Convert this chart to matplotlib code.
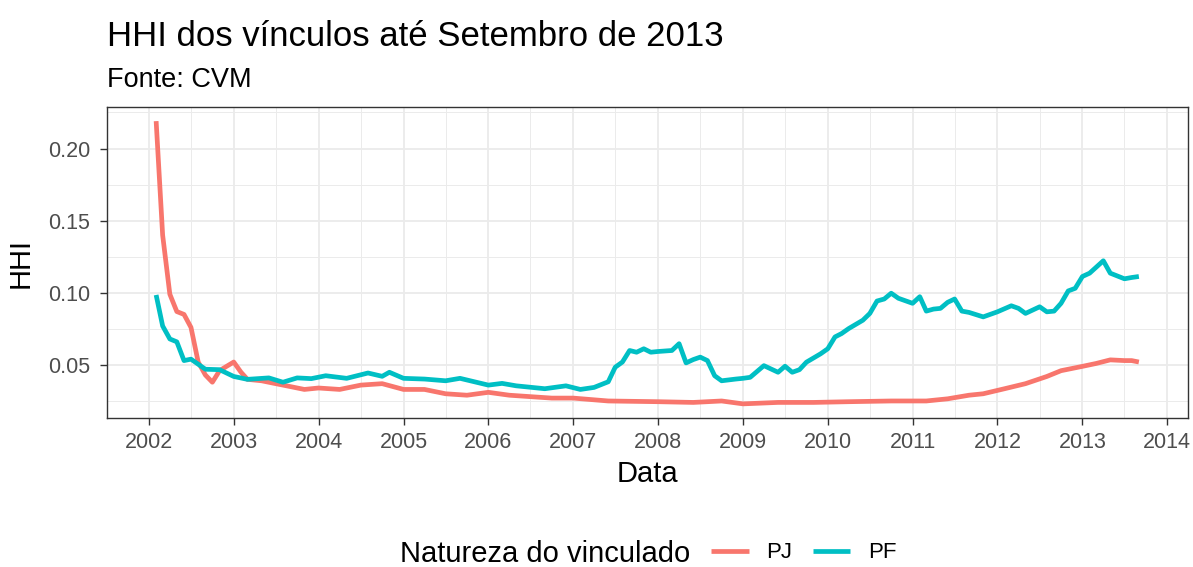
import matplotlib
matplotlib.use("Agg")
import matplotlib.pyplot as plt
import matplotlib.dates as mdates
import pandas as pd
import numpy as np

plt.rcParams['font.family'] = ['Liberation Sans', 'DejaVu Sans']

title = "HHI dos vínculos até Setembro de 2013"
subtitle = "Fonte: CVM"
x_label = "Data"
y_label = "HHI"
legend_title = "Natureza do vinculado"
series_names = ["PJ", "PF"]

pj_months = ["2002-02", "2002-03", "2002-04", "2002-05", "2002-06", "2002-07", "2002-08",
             "2002-09", "2002-10", "2002-11", "2002-12", "2003-01", "2003-02", "2003-03",
             "2003-05", "2003-07", "2003-09", "2003-11", "2004-01", "2004-04", "2004-07",
             "2004-10", "2005-01", "2005-04", "2005-07", "2005-10", "2006-01", "2006-04",
             "2006-07", "2006-10", "2007-01", "2007-06", "2008-01", "2008-06", "2008-10",
             "2009-01", "2009-06", "2009-11", "2010-04", "2010-10", "2011-03", "2011-06",
             "2011-09", "2011-11", "2012-02", "2012-05", "2012-08", "2012-10", "2013-01",
             "2013-03", "2013-05", "2013-07", "2013-08", "2013-09"]
pj_values = [0.219, 0.140, 0.099, 0.087, 0.085, 0.076, 0.052,
             0.043, 0.038, 0.046, 0.049, 0.052, 0.045, 0.040,
             0.039, 0.037, 0.035, 0.033, 0.034, 0.033, 0.036,
             0.037, 0.033, 0.033, 0.030, 0.029, 0.031, 0.029,
             0.028, 0.027, 0.027, 0.025, 0.0245, 0.024, 0.025,
             0.023, 0.024, 0.024, 0.0245, 0.025, 0.025, 0.0265,
             0.029, 0.030, 0.0335, 0.037, 0.042, 0.046, 0.049,
             0.051, 0.0535, 0.053, 0.053, 0.052]

pf_months = ["2002-02", "2002-03", "2002-04", "2002-05", "2002-06", "2002-07", "2002-09",
             "2002-11", "2003-01", "2003-03", "2003-06", "2003-08", "2003-10", "2003-12",
             "2004-02", "2004-05", "2004-08", "2004-10", "2004-11", "2005-01", "2005-04",
             "2005-07", "2005-09", "2006-01", "2006-03", "2006-05", "2006-09", "2006-12",
             "2007-02", "2007-04", "2007-06", "2007-07", "2007-08", "2007-09", "2007-10",
             "2007-11", "2007-12", "2008-01", "2008-03", "2008-04", "2008-05", "2008-06",
             "2008-07", "2008-08", "2008-09", "2008-10", "2008-12", "2009-01", "2009-02",
             "2009-04", "2009-06", "2009-07", "2009-08", "2009-09", "2009-10", "2009-12",
             "2010-01", "2010-02", "2010-03", "2010-04", "2010-06", "2010-07", "2010-08",
             "2010-09", "2010-10", "2010-11", "2011-01", "2011-02", "2011-03", "2011-04",
             "2011-05", "2011-06", "2011-07", "2011-08", "2011-09", "2011-11", "2012-01",
             "2012-03", "2012-04", "2012-05", "2012-07", "2012-08", "2012-09", "2012-10",
             "2012-11", "2012-12", "2013-01", "2013-02", "2013-04", "2013-05", "2013-07",
             "2013-08", "2013-09"]
pf_values = [0.0985, 0.077, 0.068, 0.066, 0.053, 0.054, 0.047,
             0.0467, 0.042, 0.040, 0.041, 0.038, 0.041, 0.0405,
             0.0425, 0.0407, 0.0444, 0.0421, 0.0449, 0.0407, 0.0402,
             0.039, 0.0407, 0.036, 0.0372, 0.0355, 0.0335, 0.0355,
             0.0330, 0.0344, 0.0383, 0.0484, 0.052, 0.060, 0.0588,
             0.0612, 0.0588, 0.0593, 0.060, 0.0647, 0.0514, 0.0537,
             0.0554, 0.053, 0.0425, 0.039, 0.0402, 0.0407, 0.0414,
             0.0495, 0.0449, 0.0491, 0.0449, 0.0467, 0.0519, 0.0577,
             0.0612, 0.0694, 0.0717, 0.0752, 0.081, 0.0857, 0.0943,
             0.0957, 0.0997, 0.0962, 0.0927, 0.0973, 0.0873, 0.0887,
             0.0892, 0.0934, 0.0957, 0.0873, 0.0864, 0.0833, 0.0868,
             0.091, 0.0892, 0.0857, 0.0903, 0.0868, 0.0873, 0.0927,
             0.1013, 0.1031, 0.1113, 0.1136, 0.1222, 0.1136, 0.1097,
             0.1106, 0.1113]

colors = ["#F8766D", "#00BFC4"]
y_ticks = [0.05, 0.10, 0.15, 0.20]

pj_dates = pd.to_datetime(pj_months, format="%Y-%m")
pf_dates = pd.to_datetime(pf_months, format="%Y-%m")

fig = plt.figure(figsize=(11.93, 5.67), dpi=100)
ax = fig.add_axes([107 / 1193, 1 - 418 / 567, (1188 - 107) / 1193, (418 - 107) / 567])

lines = []
for d, v, c, n in [(pj_dates, pj_values, colors[0], series_names[0]),
                   (pf_dates, pf_values, colors[1], series_names[1])]:
    ln, = ax.plot(d, v, color=c, lw=3.4, label=n, solid_joinstyle='round',
                  solid_capstyle='butt', zorder=3)
    lines.append(ln)

# ggplot-like expansion
all_dates = np.concatenate([mdates.date2num(pj_dates), mdates.date2num(pf_dates)])
xmin, xmax = all_dates.min(), all_dates.max()
xr = xmax - xmin
ax.set_xlim(xmin - 0.05 * xr, xmax + 0.05 * xr)
all_vals = np.array(pj_values + pf_values)
ymin, ymax = all_vals.min(), all_vals.max()
yr = ymax - ymin
ax.set_ylim(ymin - 0.05 * yr, ymax + 0.05 * yr)

ax.xaxis.set_major_locator(mdates.YearLocator())
ax.xaxis.set_major_formatter(mdates.DateFormatter("%Y"))
ax.xaxis.set_minor_locator(mdates.MonthLocator(bymonth=7))
ax.set_yticks(y_ticks)
ax.set_yticklabels([f"{t:.2f}" for t in y_ticks])
ax.set_yticks([0.025, 0.075, 0.125, 0.175, 0.225], minor=True)

ax.grid(True, which='major', color='#EBEBEB', lw=1.3, zorder=0)
ax.grid(True, which='minor', color='#EBEBEB', lw=0.7, zorder=0)
ax.set_axisbelow(True)
for s in ax.spines.values():
    s.set_color('#333333')
    s.set_linewidth(1.0)
ax.tick_params(axis='both', which='major', length=5, width=1.0, color='#333333',
               labelsize=15.5, labelcolor='#4D4D4D')
ax.tick_params(axis='x', which='major', pad=5)
ax.tick_params(axis='y', which='major', pad=7)
ax.tick_params(axis='both', which='minor', length=0)

ax.set_xlabel(x_label, fontsize=21, color='black', labelpad=5)
ax.set_ylabel(y_label, fontsize=21, color='black', labelpad=10)

fig.text(107 / 1193, 1 - 46 / 567, title, fontsize=25, ha='left', va='baseline')
fig.text(107 / 1193, 1 - 87 / 567, subtitle, fontsize=19.5, ha='left', va='baseline')

fig.text(400 / 1193, 1 - 554 / 567, legend_title, fontsize=21, ha='left', va='center')
fig.legend(handles=lines, labels=series_names, loc='center left',
           bbox_to_anchor=(711 / 1193, 1 - 553 / 567), ncol=2, frameon=False,
           fontsize=16, handlelength=1.7, handletextpad=0.8, columnspacing=0.9,
           borderpad=0, borderaxespad=0)

fig.savefig("out.png", dpi=100)
